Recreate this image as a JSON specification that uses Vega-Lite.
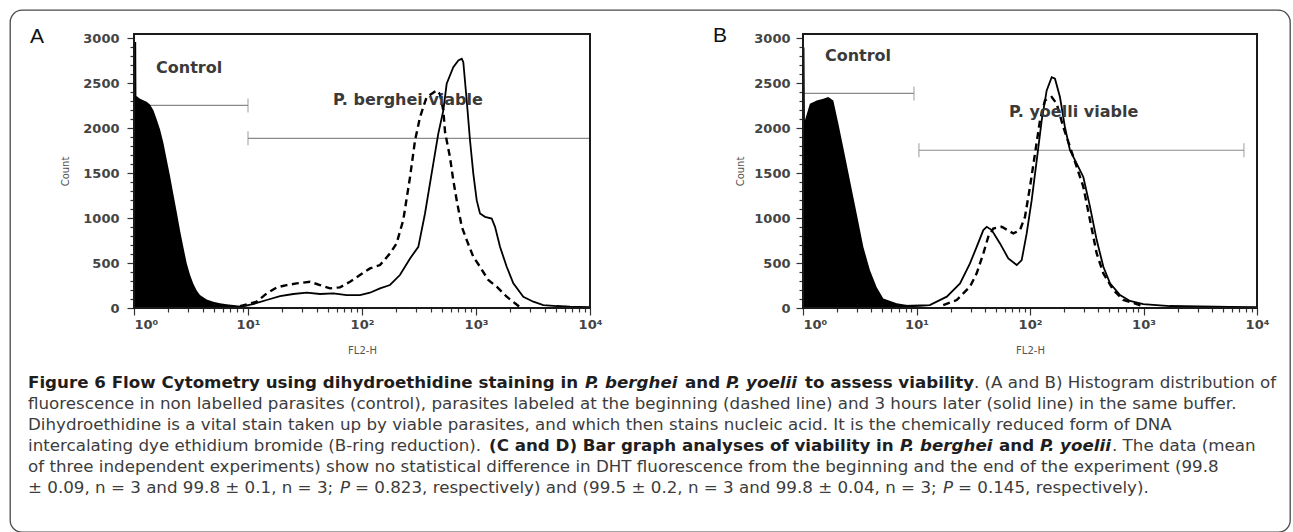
{
  "$schema": "https://vega.github.io/schema/vega-lite/v6.json",
  "width": 1280,
  "height": 522,
  "padding": {"left": 10, "top": 10, "right": 3, "bottom": 0},
  "autosize": {"type": "none"},
  "background": "white",
  "config": {
    "view": {"stroke": "#4a4a4a", "strokeWidth": 1.3, "cornerRadius": 12},
    "axis": {
      "grid": false,
      "domain": false,
      "labelFont": "DejaVu Sans",
      "labelFontWeight": "bold",
      "labelColor": "#444444",
      "labelFontSize": 13,
      "tickColor": "#333333",
      "tickWidth": 1.2,
      "titleFont": "DejaVu Sans",
      "titleFontWeight": "normal",
      "titleColor": "#555555",
      "titleFontSize": 10,
      "labelOverlap": false
    }
  },
  "datasets": {
    "controlA": [
      {"fl": 1.0, "count": 2960}, {"fl": 1.045, "count": 2960}, {"fl": 1.05, "count": 2360},
      {"fl": 1.13, "count": 2330}, {"fl": 1.29, "count": 2295}, {"fl": 1.38, "count": 2265},
      {"fl": 1.48, "count": 2200}, {"fl": 1.58, "count": 2100}, {"fl": 1.69, "count": 1990},
      {"fl": 1.81, "count": 1840}, {"fl": 1.93, "count": 1660}, {"fl": 2.07, "count": 1470},
      {"fl": 2.21, "count": 1275}, {"fl": 2.37, "count": 1070}, {"fl": 2.53, "count": 867},
      {"fl": 2.71, "count": 680}, {"fl": 2.9, "count": 497}, {"fl": 3.1, "count": 370},
      {"fl": 3.31, "count": 274}, {"fl": 3.55, "count": 195}, {"fl": 3.79, "count": 144},
      {"fl": 4.34, "count": 95}, {"fl": 4.96, "count": 70}, {"fl": 5.68, "count": 52},
      {"fl": 6.5, "count": 42}, {"fl": 7.43, "count": 33}, {"fl": 8.5, "count": 25},
      {"fl": 10, "count": 15}, {"fl": 12, "count": 8}, {"fl": 15, "count": 3}, {"fl": 20, "count": 0}
    ],
    "dashedA": [
      {"fl": 8.5, "count": 20}, {"fl": 11.9, "count": 70}, {"fl": 14.6, "count": 163},
      {"fl": 17.9, "count": 230}, {"fl": 21.8, "count": 255}, {"fl": 26.7, "count": 274},
      {"fl": 35, "count": 292}, {"fl": 42.8, "count": 255}, {"fl": 52.4, "count": 219},
      {"fl": 64.1, "count": 230}, {"fl": 78.5, "count": 292}, {"fl": 96, "count": 367},
      {"fl": 117.5, "count": 441}, {"fl": 143.8, "count": 478}, {"fl": 176, "count": 607},
      {"fl": 201, "count": 719}, {"fl": 230, "count": 978}, {"fl": 264, "count": 1459},
      {"fl": 292, "count": 1867}, {"fl": 323, "count": 2126}, {"fl": 369, "count": 2348},
      {"fl": 452, "count": 2422}, {"fl": 483, "count": 2380}, {"fl": 517, "count": 2200},
      {"fl": 535, "count": 1959}, {"fl": 591, "count": 1681}, {"fl": 632, "count": 1422},
      {"fl": 677, "count": 1200}, {"fl": 750, "count": 904}, {"fl": 829, "count": 756},
      {"fl": 947, "count": 570}, {"fl": 1084, "count": 459}, {"fl": 1282, "count": 311},
      {"fl": 1520, "count": 237}, {"fl": 1859, "count": 126}, {"fl": 2198, "count": 52},
      {"fl": 2432, "count": 10}
    ],
    "solidA": [
      {"fl": 8.5, "count": 15}, {"fl": 11.1, "count": 44}, {"fl": 14.6, "count": 89},
      {"fl": 19.1, "count": 133}, {"fl": 25, "count": 156}, {"fl": 32.7, "count": 170},
      {"fl": 42.8, "count": 156}, {"fl": 56, "count": 163}, {"fl": 73.5, "count": 144},
      {"fl": 96, "count": 144}, {"fl": 117.5, "count": 170}, {"fl": 143.8, "count": 219},
      {"fl": 176, "count": 256}, {"fl": 215, "count": 367}, {"fl": 264, "count": 552},
      {"fl": 312, "count": 681}, {"fl": 357, "count": 1052}, {"fl": 408, "count": 1496},
      {"fl": 467, "count": 1941}, {"fl": 517, "count": 2200}, {"fl": 553, "count": 2496},
      {"fl": 632, "count": 2681}, {"fl": 700, "count": 2756}, {"fl": 750, "count": 2774},
      {"fl": 774, "count": 2737}, {"fl": 829, "count": 2311}, {"fl": 886, "count": 1867},
      {"fl": 947, "count": 1496}, {"fl": 1014, "count": 1200}, {"fl": 1084, "count": 1052},
      {"fl": 1199, "count": 1015}, {"fl": 1373, "count": 996}, {"fl": 1469, "count": 904},
      {"fl": 1624, "count": 681}, {"fl": 1859, "count": 459}, {"fl": 2125, "count": 274},
      {"fl": 2600, "count": 126}, {"fl": 3184, "count": 70}, {"fl": 3893, "count": 33},
      {"fl": 5100, "count": 22}, {"fl": 6680, "count": 15}, {"fl": 10000, "count": 10}
    ],
    "controlB": [
      {"fl": 1.0, "count": 2900}, {"fl": 1.03, "count": 2900}, {"fl": 1.04, "count": 2090},
      {"fl": 1.15, "count": 2274}, {"fl": 1.32, "count": 2311}, {"fl": 1.51, "count": 2330},
      {"fl": 1.67, "count": 2348}, {"fl": 1.85, "count": 2311}, {"fl": 2.05, "count": 2052},
      {"fl": 2.26, "count": 1793}, {"fl": 2.59, "count": 1422}, {"fl": 2.97, "count": 1052},
      {"fl": 3.4, "count": 681}, {"fl": 3.89, "count": 420}, {"fl": 4.46, "count": 230},
      {"fl": 5.1, "count": 107}, {"fl": 6.69, "count": 52}, {"fl": 9.37, "count": 22},
      {"fl": 15.1, "count": 5}, {"fl": 20, "count": 0}
    ],
    "dashedB": [
      {"fl": 17.2, "count": 33}, {"fl": 22.6, "count": 89}, {"fl": 29.6, "count": 237},
      {"fl": 33.9, "count": 385}, {"fl": 38.8, "count": 607}, {"fl": 42.9, "count": 793},
      {"fl": 47.5, "count": 885}, {"fl": 56.3, "count": 904}, {"fl": 71.3, "count": 830},
      {"fl": 81.6, "count": 867}, {"fl": 90.3, "count": 1015}, {"fl": 100, "count": 1348},
      {"fl": 110.7, "count": 1719}, {"fl": 122.5, "count": 2089}, {"fl": 135.5, "count": 2311},
      {"fl": 155.3, "count": 2348}, {"fl": 171.8, "count": 2274}, {"fl": 196.5, "count": 2015},
      {"fl": 225, "count": 1793}, {"fl": 258, "count": 1570}, {"fl": 295, "count": 1348},
      {"fl": 338, "count": 978}, {"fl": 387, "count": 607}, {"fl": 443, "count": 385},
      {"fl": 542, "count": 200}, {"fl": 664, "count": 89}, {"fl": 871, "count": 44},
      {"fl": 991, "count": 20}
    ],
    "solidB": [
      {"fl": 7.65, "count": 22}, {"fl": 13.1, "count": 33}, {"fl": 18.5, "count": 126},
      {"fl": 24.2, "count": 274}, {"fl": 29.6, "count": 496}, {"fl": 33.9, "count": 681},
      {"fl": 38.8, "count": 867}, {"fl": 41.6, "count": 904}, {"fl": 46, "count": 867},
      {"fl": 54.4, "count": 719}, {"fl": 64.4, "count": 552}, {"fl": 76.4, "count": 478},
      {"fl": 84.5, "count": 533}, {"fl": 93.5, "count": 830}, {"fl": 103.5, "count": 1200},
      {"fl": 114.6, "count": 1644}, {"fl": 126.8, "count": 2089}, {"fl": 140.3, "count": 2422},
      {"fl": 155.3, "count": 2570}, {"fl": 166, "count": 2552}, {"fl": 183.6, "count": 2348},
      {"fl": 203, "count": 2015}, {"fl": 225, "count": 1756}, {"fl": 258, "count": 1607},
      {"fl": 295, "count": 1459}, {"fl": 338, "count": 1126}, {"fl": 387, "count": 756},
      {"fl": 443, "count": 459}, {"fl": 507, "count": 274}, {"fl": 621, "count": 144},
      {"fl": 760, "count": 78}, {"fl": 995, "count": 44}, {"fl": 1710, "count": 22},
      {"fl": 5780, "count": 12}, {"fl": 10000, "count": 10}
    ],
    "frames": [
      {"fl": 1, "fl2": 10000, "count": 0, "count2": 3050}
    ],
    "gates": [
      {"panel": "A", "gate": "Control", "fl": 1, "fl2": 10, "count": 2255},
      {"panel": "A", "gate": "P. berghei viable", "fl": 10, "fl2": 10000, "count": 1889},
      {"panel": "B", "gate": "Control", "fl": 1, "fl2": 9.5, "count": 2389},
      {"panel": "B", "gate": "P. yoelli viable", "fl": 10.5, "fl2": 7670, "count": 1756}
    ],
    "gateEnds": [
      {"panel": "A", "fl": 10, "count": 2255},
      {"panel": "A", "fl": 10, "count": 1889},
      {"panel": "B", "fl": 9.5, "count": 2389},
      {"panel": "B", "fl": 10.5, "count": 1756},
      {"panel": "B", "fl": 7670, "count": 1756}
    ],
    "labels": [
      {"panel": "A", "kind": "gate", "label": "Control", "fl": 1.56, "count": 2672},
      {"panel": "A", "kind": "gate", "label": "P. berghei viable", "fl": 55.7, "count": 2316},
      {"panel": "B", "kind": "gate", "label": "Control", "fl": 1.56, "count": 2806},
      {"panel": "B", "kind": "gate", "label": "P. yoelli viable", "fl": 65.3, "count": 2183},
      {"panel": "A", "kind": "panel", "label": "A", "fl": 0.141, "count": 3022},
      {"panel": "B", "kind": "panel", "label": "B", "fl": 0.186, "count": 3033}
    ],
    "caption": [
      {"line": 1, "seg": "1a", "role": "heading", "text": "Figure 6 Flow Cytometry using dihydroethidine staining in"},
      {"line": 1, "seg": "1b", "role": "species", "text": "P. berghei"},
      {"line": 1, "seg": "1c", "role": "heading", "text": "and"},
      {"line": 1, "seg": "1d", "role": "species", "text": "P. yoelii"},
      {"line": 1, "seg": "1e", "role": "heading", "text": "to assess viability"},
      {"line": 1, "seg": "1f", "role": "body", "text": ". (A and B) Histogram distribution of"},
      {"line": 2, "seg": "2", "role": "body", "text": "fluorescence in non labelled parasites (control), parasites labeled at the beginning (dashed line) and 3 hours later (solid line) in the same buffer."},
      {"line": 3, "seg": "3", "role": "body", "text": "Dihydroethidine is a vital stain taken up by viable parasites, and which then stains nucleic acid. It is the chemically reduced form of DNA"},
      {"line": 4, "seg": "4a", "role": "body", "text": "intercalating dye ethidium bromide (B-ring reduction)."},
      {"line": 4, "seg": "4b", "role": "heading", "text": "(C and D) Bar graph analyses of viability in"},
      {"line": 4, "seg": "4c", "role": "species", "text": "P. berghei"},
      {"line": 4, "seg": "4d", "role": "heading", "text": "and"},
      {"line": 4, "seg": "4e", "role": "species", "text": "P. yoelii"},
      {"line": 4, "seg": "4f", "role": "body", "text": ". The data (mean"},
      {"line": 5, "seg": "5", "role": "body", "text": "of three independent experiments) show no statistical difference in DHT fluorescence from the beginning and the end of the experiment (99.8"},
      {"line": 6, "seg": "6a", "role": "body", "text": "± 0.09, n = 3 and 99.8 ± 0.1, n = 3;"},
      {"line": 6, "seg": "6b", "role": "pvalue", "text": "P"},
      {"line": 6, "seg": "6c", "role": "body", "text": "= 0.823, respectively) and (99.5 ± 0.2, n = 3 and 99.8 ± 0.04, n = 3;"},
      {"line": 6, "seg": "6d", "role": "pvalue", "text": "P"},
      {"line": 6, "seg": "6e", "role": "body", "text": "= 0.145, respectively)."}
    ]
  },
  "layer": [
    {
      "encoding": {
        "x": {
          "field": "fl", "type": "quantitative",
          "scale": {"type": "log", "domain": [1, 10000], "range": [124, 580]},
          "axis": {
            "orient": "bottom", "offset": -224, "title": "FL2-H",
            "values": [1,2,3,4,5,6,7,8,9,10,20,30,40,50,60,70,80,90,100,200,300,400,500,600,700,800,900,1000,2000,3000,4000,5000,6000,7000,8000,9000,10000],
            "labelExpr": "datum.value == 1 ? '10⁰' : datum.value == 10 ? '10¹' : datum.value == 100 ? '10²' : datum.value == 1000 ? '10³' : datum.value == 10000 ? '10⁴' : ''",
            "tickSize": {"condition": {"test": "indexof([1,10,100,1000,10000], datum.value) >= 0", "value": 7}, "value": 4},
            "labelPadding": 3, "titlePadding": 14, "labelFlush": false,
            "labelAlign": {"condition": {"test": "datum.value == 1", "value": "left"}, "value": "center"}
          }
        },
        "y": {
          "field": "count", "type": "quantitative",
          "scale": {"domain": [0, 3050], "range": [298, 24]},
          "axis": {
            "orient": "left", "offset": -124, "title": "Count", "format": "d",
            "values": [0,100,200,300,400,500,600,700,800,900,1000,1100,1200,1300,1400,1500,1600,1700,1800,1900,2000,2100,2200,2300,2400,2500,2600,2700,2800,2900,3000],
            "labelExpr": "datum.value % 500 == 0 ? datum.label : ''",
            "tickSize": {"condition": {"test": "datum.value % 500 == 0", "value": 7}, "value": 4},
            "labelPadding": 8, "titlePadding": 12
          }
        }
      },
      "layer": [
        {
          "data": {"name": "gates"},
          "transform": [{"filter": "datum.panel == 'A'"}],
          "mark": {"type": "rule", "color": "#8a8a8a", "strokeWidth": 1.2},
          "encoding": {"x2": {"field": "fl2"}}
        },
        {
          "data": {"name": "gateEnds"},
          "transform": [{"filter": "datum.panel == 'A'"}],
          "mark": {"type": "tick", "orient": "vertical", "color": "#8a8a8a", "size": 14, "thickness": 1.2}
        },
        {
          "data": {"name": "controlA"},
          "mark": {"type": "area", "color": "#000000", "orient": "vertical", "opacity": 1}
        },
        {
          "data": {"name": "dashedA"},
          "mark": {"type": "line", "color": "#000000", "strokeWidth": 2.4, "strokeDash": [7, 4.5]}
        },
        {
          "data": {"name": "solidA"},
          "mark": {"type": "line", "color": "#000000", "strokeWidth": 1.8}
        },
        {
          "data": {"name": "frames"},
          "mark": {"type": "rect", "filled": false, "color": "#1a1a1a", "strokeWidth": 2},
          "encoding": {"x2": {"field": "fl2"}, "y2": {"field": "count2"}}
        },
        {
          "data": {"name": "labels"},
          "transform": [{"filter": "datum.panel == 'A' && datum.kind == 'gate'"}],
          "mark": {"type": "text", "align": "left", "baseline": "middle", "font": "DejaVu Sans", "fontWeight": "bold", "fontSize": 16, "color": "#3a3a3a"},
          "encoding": {"text": {"field": "label"}}
        },
        {
          "data": {"name": "labels"},
          "transform": [{"filter": "datum.panel == 'A' && datum.kind == 'panel'"}],
          "mark": {"type": "text", "align": "center", "baseline": "middle", "font": "Liberation Sans", "fontSize": 21, "color": "#111111"},
          "encoding": {"text": {"field": "label"}}
        }
      ]
    },
    {
      "encoding": {
        "x": {
          "field": "fl", "type": "quantitative",
          "scale": {"type": "log", "domain": [1, 10000], "range": [793, 1247]},
          "axis": {
            "orient": "bottom", "offset": -224, "title": "FL2-H",
            "values": [1,2,3,4,5,6,7,8,9,10,20,30,40,50,60,70,80,90,100,200,300,400,500,600,700,800,900,1000,2000,3000,4000,5000,6000,7000,8000,9000,10000],
            "labelExpr": "datum.value == 1 ? '10⁰' : datum.value == 10 ? '10¹' : datum.value == 100 ? '10²' : datum.value == 1000 ? '10³' : datum.value == 10000 ? '10⁴' : ''",
            "tickSize": {"condition": {"test": "indexof([1,10,100,1000,10000], datum.value) >= 0", "value": 7}, "value": 4},
            "labelPadding": 3, "titlePadding": 14, "labelFlush": false,
            "labelAlign": {"condition": {"test": "datum.value == 1", "value": "left"}, "value": "center"}
          }
        },
        "y": {
          "field": "count", "type": "quantitative",
          "scale": {"domain": [0, 3050], "range": [298, 24]},
          "axis": {
            "orient": "left", "offset": -793, "title": "Count", "format": "d",
            "values": [0,100,200,300,400,500,600,700,800,900,1000,1100,1200,1300,1400,1500,1600,1700,1800,1900,2000,2100,2200,2300,2400,2500,2600,2700,2800,2900,3000],
            "labelExpr": "datum.value % 500 == 0 ? datum.label : ''",
            "tickSize": {"condition": {"test": "datum.value % 500 == 0", "value": 7}, "value": 4},
            "labelPadding": 6, "titlePadding": 8
          }
        }
      },
      "layer": [
        {
          "data": {"name": "gates"},
          "transform": [{"filter": "datum.panel == 'B'"}],
          "mark": {"type": "rule", "color": "#8a8a8a", "strokeWidth": 1.2},
          "encoding": {"x2": {"field": "fl2"}}
        },
        {
          "data": {"name": "gateEnds"},
          "transform": [{"filter": "datum.panel == 'B'"}],
          "mark": {"type": "tick", "orient": "vertical", "color": "#8a8a8a", "size": 14, "thickness": 1.2}
        },
        {
          "data": {"name": "controlB"},
          "mark": {"type": "area", "color": "#000000", "orient": "vertical", "opacity": 1}
        },
        {
          "data": {"name": "dashedB"},
          "mark": {"type": "line", "color": "#000000", "strokeWidth": 2.4, "strokeDash": [7, 4.5]}
        },
        {
          "data": {"name": "solidB"},
          "mark": {"type": "line", "color": "#000000", "strokeWidth": 1.8}
        },
        {
          "data": {"name": "frames"},
          "mark": {"type": "rect", "filled": false, "color": "#1a1a1a", "strokeWidth": 2},
          "encoding": {"x2": {"field": "fl2"}, "y2": {"field": "count2"}}
        },
        {
          "data": {"name": "labels"},
          "transform": [{"filter": "datum.panel == 'B' && datum.kind == 'gate'"}],
          "mark": {"type": "text", "align": "left", "baseline": "middle", "font": "DejaVu Sans", "fontWeight": "bold", "fontSize": 16, "color": "#3a3a3a"},
          "encoding": {"text": {"field": "label"}}
        },
        {
          "data": {"name": "labels"},
          "transform": [{"filter": "datum.panel == 'B' && datum.kind == 'panel'"}],
          "mark": {"type": "text", "align": "center", "baseline": "middle", "font": "Liberation Sans", "fontSize": 21, "color": "#111111"},
          "encoding": {"text": {"field": "label"}}
        }
      ]
    },
    {
      "data": {"name": "caption"},
      "mark": {
        "type": "text", "align": "left", "baseline": "middle", "font": "DejaVu Sans", "fontSize": 16.7,
        "dx": {"expr": "[18,575,675,716,795,964,18,18,18,479,890,989,1030,1102,18,18,330,345,933,948][indexof(['1a','1b','1c','1d','1e','1f','2','3','4a','4b','4c','4d','4e','4f','5','6a','6b','6c','6d','6e'], datum.seg)]"},
        "fontWeight": {"expr": "datum.role == 'heading' || datum.role == 'species' ? 'bold' : 'normal'"},
        "fontStyle": {"expr": "datum.role == 'species' || datum.role == 'pvalue' ? 'italic' : 'normal'"},
        "fill": {"expr": "datum.role == 'heading' || datum.role == 'species' ? '#1e1e1e' : '#3c3c3c'"}
      },
      "encoding": {
        "x": {"value": 0},
        "y": {"field": "line", "type": "quantitative", "scale": {"domain": [1, 6], "range": [373, 478]}, "axis": null},
        "text": {"field": "text"}
      }
    }
  ],
  "resolve": {
    "scale": {"x": "independent", "y": "independent"},
    "axis": {"x": "independent", "y": "independent"}
  }
}
